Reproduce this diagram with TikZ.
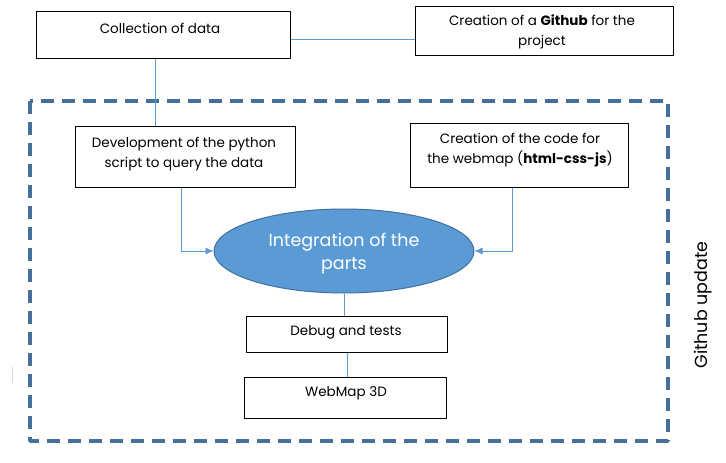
\documentclass[tikz,border=0pt]{standalone}
\usepackage{fontspec}
\setmainfont{Poppins}
\usetikzlibrary{shapes.geometric,arrows.meta,positioning}
\definecolor{linkblue}{HTML}{5B9BD5}
\definecolor{edgeblue}{HTML}{41719C}
\definecolor{dashblue}{HTML}{44709A}
\tikzset{
  box/.style={draw=black,line width=0.8pt,anchor=north west,inner sep=0pt},
  txt/.style={align=center,inner sep=0pt,font=\fontsize{13.5}{20}\selectfont},
  conn/.style={draw=linkblue,line width=0.8pt},
  tip/.style={-{Latex[length=8pt,width=7pt]}}
}
\begin{document}
\begin{tikzpicture}[x=1pt,y=-1pt,line join=round]
\useasboundingbox[fill=white] (0,0) rectangle (726,463);
% outer dashed frame
\draw[dashblue,line width=3.5pt,dash pattern=on 13pt off 8pt] (30,101) rectangle (668,441);
\node[rotate=90,font=\fontsize{17.5}{20}\selectfont] (update) at (703,305) {Github update};
% boxes
\node[box,minimum width=254pt,minimum height=47pt] (collect) at (36,11) {};
\node[txt] (collect-t) at (160,28) {Collection of data};
\node[box,minimum width=258pt,minimum height=49pt] (github) at (415,6) {};
\node[txt] (github-t) at (542,32) {Creation of a \textbf{Github} for the\\project};
\node[box,minimum width=220pt,minimum height=61pt] (dev) at (75,126) {};
\node[txt] (dev-t) at (184,154) {Development of the python\\script to query the data};
\node[box,minimum width=218pt,minimum height=64pt] (code) at (410,123) {};
\node[txt] (code-t) at (520,150) {Creation of the code for\\the webmap (\textbf{html-css-js})};
\node[ellipse,draw=edgeblue,fill=linkblue,line width=1pt,minimum width=260pt,minimum height=84pt] (integ) at (344,251) {};
\node[text=white,align=center,inner sep=0pt,font=\fontsize{17.5}{23}\selectfont] (integ-t) at (344,254) {Integration of the\\parts};
\node[box,minimum width=201pt,minimum height=36pt] (debug) at (246,316) {};
\node[txt] (debug-t) at (346,332) {Debug and tests};
\node[box,minimum width=202pt,minimum height=41pt] (webmap) at (244,377) {};
\node[txt] (webmap-t) at (346,393) {WebMap 3D};
% connectors
\draw[conn] ([yshift=-4pt]collect.east) -- ([yshift=-4pt]collect.east -| github.west);
\draw[conn] ([xshift=-8pt]collect.south) -- ([xshift=-8pt]collect.south |- dev.north);
\draw[conn,tip] ([xshift=-4pt]dev.south) |- (integ.west);
\draw[conn,tip] ([xshift=-7pt]code.south) |- (integ.east);
\draw[conn] (integ.south) -- (integ.south |- debug.north);
\draw[conn] (debug.south) -- (debug.south |- webmap.north);
\draw[black!15,line width=0.6pt] (12,367) -- (12,383);
\end{tikzpicture}
\end{document}
